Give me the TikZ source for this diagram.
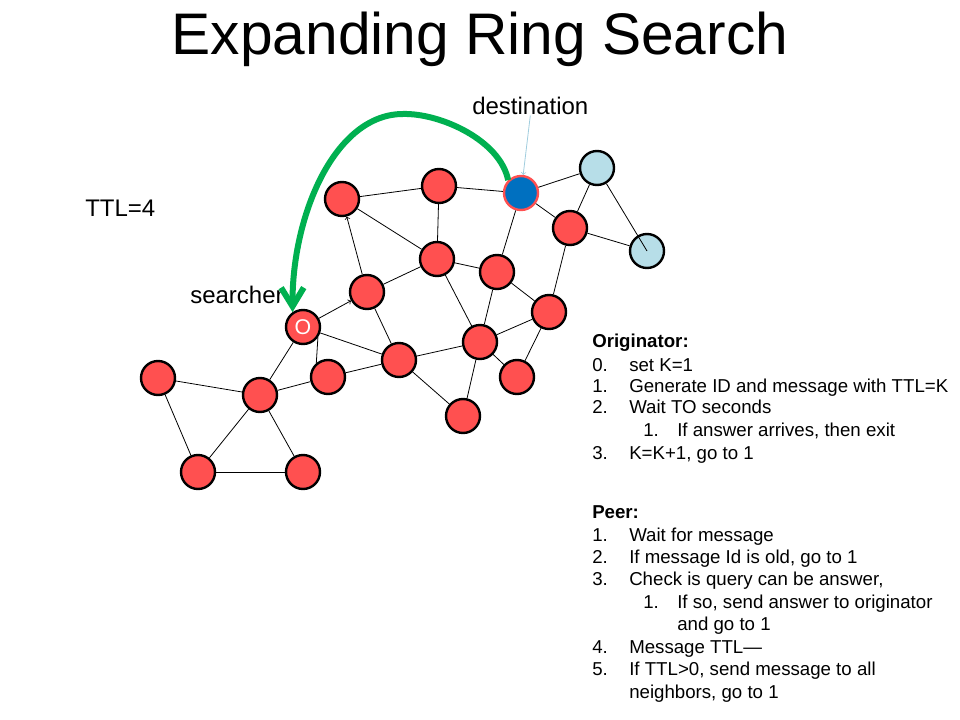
\documentclass[tikz,border=0pt]{standalone}
\usepackage{fontspec}
\setmainfont{Liberation Sans}
\usetikzlibrary{arrows, arrows.meta}
\definecolor{peerred}{RGB}{255,80,80}
\definecolor{dstblue}{RGB}{0,112,192}
\definecolor{farblue}{RGB}{183,222,232}
\definecolor{routegreen}{RGB}{0,176,80}
\definecolor{pointblue}{RGB}{160,205,222}
\tikzstyle{peer} = [circle, minimum size=25.5pt, inner sep=0pt, draw=black, line width=1.8pt, fill=peerred]
\tikzstyle{target} = [peer, fill=dstblue, draw=peerred]
\tikzstyle{far} = [peer, fill=farblue]
\tikzstyle{link} = [line width=0.6pt]
\tikzstyle{arrow} = [link,->,>=to]
\tikzstyle{route} = [line width=4.5pt, draw=routegreen, -{Straight Barb[length=14pt, width=17pt]}]
\tikzstyle{pointer} = [line width=0.6pt, draw=pointblue, ->, >=to]
\tikzstyle{note} = [font=\fontsize{18}{21}\selectfont, anchor=base west, inner sep=0pt]
\tikzstyle{li} = [font=\fontsize{14}{17}\selectfont, anchor=base west, inner sep=0pt]
\newcommand{\nb}[1]{\makebox[27.75pt][l]{#1}}
\newcommand{\subnb}[1]{\makebox[25.5pt][l]{#1}}
\begin{document}
\begin{tikzpicture}[x=0.75pt, y=-0.75pt]
    \useasboundingbox (0,0) rectangle (960,720);
    \node (title) [anchor=base, inner sep=0pt, font=\fontsize{44}{50}\selectfont] at (480,55) {Expanding Ring Search};
    \node (ttl) [note] at (85,217) {TTL=4};
    \node (who) [note] at (190,303) {searcher};
    \node (dstname) [note] at (472,115) {destination};
    % peers
    \node (p1) [peer] at (342,199) {};
    \node (p2) [peer] at (439,186) {};
    \node (dst) [target] at (521,193) {};
    \node (far1) [far] at (597,168) {};
    \node (far2) [far] at (647,251) {};
    \node (p3) [peer] at (570,228) {};
    \node (p4) [peer] at (437,259) {};
    \node (p5) [peer] at (497,272) {};
    \node (p6) [peer] at (367,292) {};
    \node (p7) [peer] at (549,312) {};
    \node (src) [peer, text=white, font=\fontsize{16}{18}\selectfont] at (303,327) {O};
    \node (p8) [peer] at (480,342) {};
    \node (p9) [peer] at (399,360) {};
    \node (p10) [peer] at (328,377) {};
    \node (p11) [peer] at (517,377) {};
    \node (p12) [peer] at (463,416) {};
    \node (p13) [peer] at (158,378) {};
    \node (p14) [peer] at (260,395) {};
    \node (p15) [peer] at (198,472) {};
    \node (p16) [peer] at (303,472) {};
    % links
    \draw [link] (p1) -- (p2);
    \draw [link] (p2) -- (dst);
    \draw [link] (dst) -- (far1);
    \draw [link] (dst) -- (p3);
    \draw [link] (far1) -- (p3);
    \draw [link] (p3) -- (far2);
    \draw [link] (far1) -- (far2.center);
    \draw [link] (p2) -- (p4);
    \draw [link] (p4) -- (p1);
    \draw [arrow] (p6) -- (p1);
    \draw [link] (p4) -- (p5);
    \draw [link] (dst) -- (p5);
    \draw [link] (p5) -- (p7);
    \draw [link] (p5) -- (p8);
    \draw [link] (p4) -- (p8);
    \draw [link] (p6) -- (p4);
    \draw [link] (p6) -- (p9);
    \draw [arrow] (src) -- (p6);
    \draw [link] (src) -- (p9);
    \draw [link] (src.-35) -- (p10.130);
    \draw [link] (src) -- (p14);
    \draw [link] (p10) -- (p9);
    \draw [link] (p9) -- (p8);
    \draw [link] (p9) -- (p12);
    \draw [link] (p8) -- (p12);
    \draw [link] (p8) -- (p11);
    \draw [link] (p8) -- (p7);
    \draw [link] (p7) -- (p11);
    \draw [link] (p3) -- (p7);
    \draw [link] (p13) -- (p14);
    \draw [link] (p13) -- (p15);
    \draw [link] (p14) -- (p15);
    \draw [link] (p14) -- (p16);
    \draw [link] (p15) -- (p16);
    \draw [link] (p14) -- (p10);
    \draw [pointer] (dstname.south) -- (dst);
    \draw [route] (dst.135) .. controls (500,140) and (440,113) .. (403,114) .. controls (335,114) and (292,215) .. (src.125);
    % originator and peer steps
    \node (orig) [li] at (592,347) {\textbf{Originator:}};
    \node (o0) [li] at (592,371) {\nb{0.}set K=1};
    \node (o1) [li] at (592,392) {\nb{1.}Generate ID and message with TTL=K};
    \node (o2) [li] at (592,413) {\nb{2.}Wait TO seconds};
    \node (o21) [li] at (643,436) {\subnb{1.}If answer arrives, then exit};
    \node (o3) [li] at (592,459) {\nb{3.}K=K+1, go to 1};
    \node (peer) [li] at (592,518) {\textbf{Peer:}};
    \node (q1) [li] at (592,541) {\nb{1.}Wait for message};
    \node (q2) [li] at (592,563) {\nb{2.}If message Id is old, go to 1};
    \node (q3) [li] at (592,585) {\nb{3.}Check is query can be answer,};
    \node (q31) [li] at (643,608) {\subnb{1.}If so, send answer to originator};
    \node (q31b) [li] at (677,630) {and go to 1};
    \node (q4) [li] at (592,653) {\nb{4.}Message TTL—};
    \node (q5) [li] at (592,675) {\nb{5.}If TTL>0, send message to all};
    \node (q5b) [li] at (629,698) {neighbors, go to 1};
\end{tikzpicture}
\end{document}
